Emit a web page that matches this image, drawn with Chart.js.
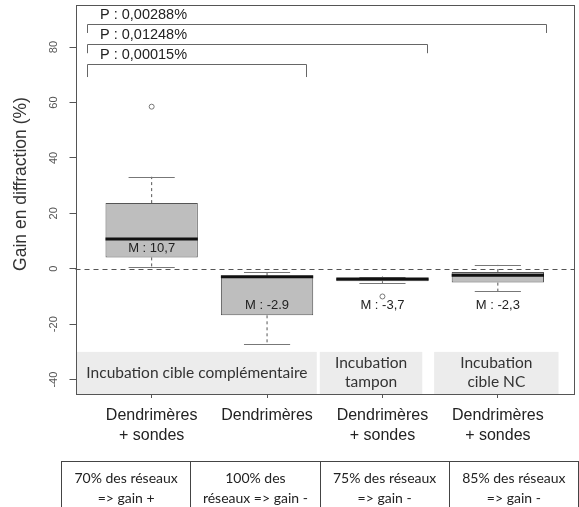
<!DOCTYPE html>
<html>
<head>
<meta charset="utf-8">
<script src="https://cdn.jsdelivr.net/npm/chart.js@4"></script>
<style>
  body { margin: 0; background: #fff; }
  #wrap { position: relative; width: 579px; height: 507px; overflow: hidden; }
  #chart { position: absolute; left: 0; top: 0; }
  #gainTable {
    position: absolute; left: 61px; top: 461px;
    border-collapse: collapse; font: 14px Lato, sans-serif; color: #222;
  }
  #gainTable td {
    width: 129px; border: 1px solid #444; text-align: center;
    line-height: 20px; padding: 6px 0 10px 0; white-space: nowrap;
  }
</style>
</head>
<body>
<div id="wrap">
  <canvas id="chart" width="579" height="507"></canvas>
  <table id="gainTable"><tr></tr></table>
</div>
<script>
// ── Data ──
const positions = [1, 2, 3, 4];
const categories = [
  ["Dendrimères", "+ sondes"],
  ["Dendrimères"],
  ["Dendrimères", "+ sondes"],
  ["Dendrimères", "+ sondes"],
];
const q1 = [4.1, -16.8, -4.5, -5.0];
const q3 = [23.7, -2.5, -3.4, -1.2];
const medians = [10.7, -2.9, -3.7, -2.3];
const whiskerLow = [0.8, -27.3, -5.1, -8.2];
const whiskerHigh = [33.2, -1.2, -2.8, 1.4];
const outliers = [{ x: 1, y: 58.5 }, { x: 3, y: -10 }];
const medianLabels = ["M : 10,7", "M : -2.9", "M : -3,7", "M : -2,3"];
const medianLabelY = [7.2, -13.2, -13.2, -13.2];
const yTicks = [-40, -20, 0, 20, 40, 60, 80];

// p-value brackets (x from, x to, bar level, tick end)
const pTexts = ["P : 0,00288%", "P : 0,01248%", "P : 0,00015%"];
const pTextY = [91.7, 84.5, 77.0];
const bracketFrom = [0.437, 0.437, 0.437];
const bracketTo = [4.414, 3.388, 2.336];
const bracketY = [88.3, 81.3, 74.0];
const bracketEnd = [85.1, 77.8, 69.2];

// condition bands along the bottom
const bandLabels = [["Incubation cible complémentaire"], ["Incubation", "tampon"], ["Incubation", "cible NC"]];
const bandFrom = [0.353, 2.457, 3.448];
const bandTo = [2.431, 3.345, 4.526];
const bandTop = -30;

const tableCells = [
  ["70% des réseaux", "=> gain +"],
  ["100% des", "réseaux => gain -"],
  ["75% des réseaux", "=> gain -"],
  ["85% des réseaux", "=> gain -"],
];

const row = document.querySelector("#gainTable tr");
tableCells.forEach(lines => {
  const td = document.createElement("td");
  lines.forEach((l, i) => {
    if (i) td.appendChild(document.createElement("br"));
    td.appendChild(document.createTextNode(l));
  });
  row.appendChild(td);
});

// Box-plot pieces drawn on top of the floating bars
const boxPlotExtras = {
  id: "boxPlotExtras",
  afterDatasetsDraw(chart) {
    const { ctx, chartArea: a, scales: { x, y } } = chart;
    const boxW = chart.getDatasetMeta(0).data[0].width;
    ctx.save();

    // whiskers + caps
    positions.forEach((p, i) => {
      const cx = x.getPixelForValue(p);
      ctx.strokeStyle = "#555";
      ctx.lineWidth = 1;
      ctx.setLineDash([3, 3]);
      ctx.beginPath();
      ctx.moveTo(cx, y.getPixelForValue(q3[i]));
      ctx.lineTo(cx, y.getPixelForValue(whiskerHigh[i]));
      ctx.moveTo(cx, y.getPixelForValue(q1[i]));
      ctx.lineTo(cx, y.getPixelForValue(whiskerLow[i]));
      ctx.stroke();
      ctx.setLineDash([]);
      ctx.strokeStyle = "#777";
      ctx.beginPath();
      [whiskerHigh[i], whiskerLow[i]].forEach(v => {
        const py = Math.round(y.getPixelForValue(v)) + 0.5;
        ctx.moveTo(cx - boxW / 4, py);
        ctx.lineTo(cx + boxW / 4, py);
      });
      ctx.stroke();
      // median
      ctx.strokeStyle = "#111";
      ctx.lineWidth = 3;
      ctx.beginPath();
      const my = y.getPixelForValue(medians[i]);
      ctx.moveTo(cx - boxW / 2, my);
      ctx.lineTo(cx + boxW / 2, my);
      ctx.stroke();
    });

    // zero reference line
    ctx.strokeStyle = "#555";
    ctx.lineWidth = 1;
    ctx.setLineDash([5, 4]);
    const zy = Math.round(y.getPixelForValue(0)) + 0.5;
    ctx.beginPath();
    ctx.moveTo(a.left, zy);
    ctx.lineTo(a.right, zy);
    ctx.stroke();
    ctx.setLineDash([]);

    // median labels
    ctx.fillStyle = "#222";
    ctx.font = "13px 'Liberation Sans'";
    ctx.textAlign = "center";
    ctx.textBaseline = "middle";
    positions.forEach((p, i) => {
      ctx.fillText(medianLabels[i], x.getPixelForValue(p), y.getPixelForValue(medianLabelY[i]));
    });

    // bands
    bandLabels.forEach((lines, i) => {
      const x0 = x.getPixelForValue(bandFrom[i]);
      const x1 = x.getPixelForValue(bandTo[i]);
      const y0 = y.getPixelForValue(bandTop);
      ctx.fillStyle = "#ececec";
      ctx.fillRect(x0, y0, x1 - x0, a.bottom - y0);
      ctx.fillStyle = "#333";
      ctx.font = "15.5px Lato";
      const cy = (y0 + a.bottom) / 2;
      lines.forEach((l, k) => {
        ctx.fillText(l, (x0 + x1) / 2, cy + (k - (lines.length - 1) / 2) * 19);
      });
    });

    // plot frame
    ctx.strokeStyle = "#555";
    ctx.lineWidth = 1;
    ctx.strokeRect(Math.round(a.left) + 0.5, Math.round(a.top) + 0.5,
      Math.round(a.right - a.left) - 1, Math.round(a.bottom - a.top));

    // p-value brackets
    ctx.strokeStyle = "#666";
    ctx.beginPath();
    bracketY.forEach((by, i) => {
      const x0 = Math.round(x.getPixelForValue(bracketFrom[i])) + 0.5;
      const x1 = Math.round(x.getPixelForValue(bracketTo[i])) + 0.5;
      const py = Math.round(y.getPixelForValue(by)) + 0.5;
      const pe = y.getPixelForValue(bracketEnd[i]);
      ctx.moveTo(x0, pe);
      ctx.lineTo(x0, py);
      ctx.lineTo(x1, py);
      ctx.lineTo(x1, pe);
    });
    ctx.stroke();
    ctx.fillStyle = "#222";
    ctx.font = "14.5px 'Liberation Sans'";
    ctx.textAlign = "left";
    pTexts.forEach((t, i) => {
      ctx.fillText(t, x.getPixelForValue(0.552), y.getPixelForValue(pTextY[i]));
    });

    // y tick labels, rotated as in R
    ctx.fillStyle = "#555";
    ctx.font = "11px 'Liberation Sans'";
    ctx.textAlign = "center";
    y.ticks.forEach(t => {
      ctx.save();
      ctx.translate(54, y.getPixelForValue(t.value));
      ctx.rotate(-Math.PI / 2);
      ctx.fillText(String(t.value), 0, 0);
      ctx.restore();
    });

    // y title
    ctx.save();
    ctx.fillStyle = "#333";
    ctx.font = "17.5px 'Liberation Sans'";
    ctx.translate(21, 184);
    ctx.rotate(-Math.PI / 2);
    ctx.fillText("Gain en diffraction (%)", 0, 0);
    ctx.restore();

    ctx.restore();
  },
};

new Chart(document.getElementById("chart"), {
  type: "bar",
  data: {
    datasets: [
      {
        type: "bar",
        data: positions.map((p, i) => ({ x: p, y: [q1[i], q3[i]] })),
        backgroundColor: "#bebebe",
        borderColor: "#555",
        borderWidth: 1,
        borderSkipped: false,
        categoryPercentage: 0.8,
        barPercentage: 1,
      },
      {
        type: "scatter",
        data: outliers,
        pointRadius: 2.5,
        borderColor: "#777",
        backgroundColor: "rgba(0,0,0,0)",
        borderWidth: 1,
      },
    ],
  },
  options: {
    responsive: false,
    animation: false,
    layout: { padding: { top: 4, right: 2.5, left: 0, bottom: 0 } },
    plugins: { legend: { display: false }, tooltip: { enabled: false } },
    scales: {
      x: {
        type: "linear",
        min: 0.34,
        max: 4.66,
        offset: false,
        afterBuildTicks: s => { s.ticks = positions.map(v => ({ value: v })); },
        afterFit: s => { s.height = 113; },
        ticks: {
          callback: v => categories[v - 1],
          font: { family: "'Liberation Sans'", size: 16, lineHeight: 1.25 },
          color: "#222",
          padding: 8,
          maxRotation: 0,
        },
        grid: { drawOnChartArea: false, offset: false, tickLength: 4, color: "#555" },
        border: { display: false },
      },
      y: {
        min: -45.2,
        max: 95.2,
        afterBuildTicks: s => { s.ticks = yTicks.map(v => ({ value: v })); },
        afterFit: s => { s.width = 75.5; },
        ticks: { display: false },
        grid: { drawOnChartArea: false, tickLength: 6, color: "#555" },
        border: { display: false },
      },
    },
  },
  plugins: [boxPlotExtras],
});
</script>
</body>
</html>
